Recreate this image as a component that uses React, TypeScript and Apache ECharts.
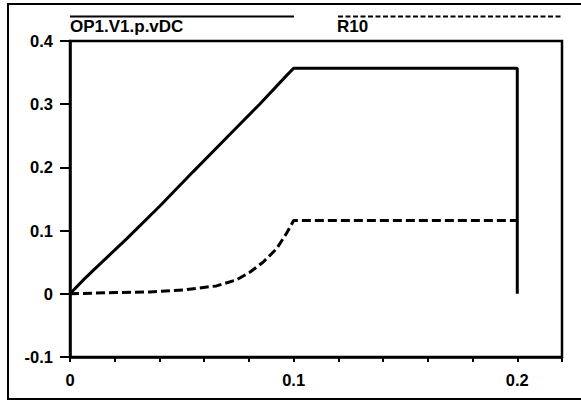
import React, { useEffect, useRef } from "react";
import * as echarts from "echarts";

const seriesNames = ["OP1.V1.p.vDC", "R10"];
const vdcX = [0, 0.006, 0.0104, 0.0253, 0.0402, 0.055, 0.07, 0.0848, 0.097, 0.1, 0.2, 0.2];
const vdcY = [0, 0.022, 0.037, 0.087, 0.139, 0.193, 0.247, 0.3, 0.346, 0.357, 0.357, 0];
const r10X = [0, 0.02, 0.0357, 0.0506, 0.0655, 0.0744, 0.0804, 0.0863, 0.0923, 0.0967, 0.1, 0.2];
const r10Y = [0, 0.002, 0.003, 0.006, 0.0125, 0.022, 0.034, 0.05, 0.071, 0.095, 0.116, 0.116];
const xLabelValues = [0, 0.1, 0.2];

const FONT = "'Liberation Sans', Arial, Helvetica, sans-serif";

export default function App() {
  const ref = useRef<HTMLDivElement>(null);
  useEffect(() => {
    document.body.style.margin = "0";
    const chart = echarts.init(ref.current!, undefined, { renderer: "svg" });
    const fmtX = (v: number) => {
      const hit = xLabelValues.find((t) => Math.abs(t - v) < 1e-9);
      return hit === undefined ? "" : String(hit);
    };
    chart.setOption({
      animation: false,
      backgroundColor: "#fff",
      grid: {
        left: 70,
        top: 41,
        right: 19,
        bottom: 46,
        show: true,
        borderColor: "#000",
        borderWidth: 2.5,
        backgroundColor: "transparent",
      },
      xAxis: {
        type: "value",
        min: 0,
        max: 0.22,
        interval: 0.02,
        splitLine: { show: false },
        axisLine: { show: true, onZero: false, lineStyle: { color: "#000", width: 2.5 } },
        axisTick: { show: true, length: 5, lineStyle: { color: "#000", width: 2 } },
        axisLabel: {
          formatter: fmtX,
          color: "#000",
          fontFamily: FONT,
          fontWeight: "bold",
          fontSize: 16.5,
          margin: 14,
          showMaxLabel: true,
          showMinLabel: true,
        },
      },
      yAxis: {
        type: "value",
        min: -0.1,
        max: 0.4,
        interval: 0.1,
        splitLine: { show: false },
        axisLine: { show: true, onZero: false, lineStyle: { color: "#000", width: 2.5 } },
        axisTick: { show: true, length: 10, lineStyle: { color: "#000", width: 2 } },
        axisLabel: {
          formatter: (v: number) => String(Math.round(v * 10) / 10),
          color: "#000",
          fontFamily: FONT,
          fontWeight: "bold",
          fontSize: 16.5,
          margin: 17,
        },
      },
      series: [
        {
          name: seriesNames[0],
          type: "line",
          showSymbol: false,
          data: vdcX.map((x, i) => [x, vdcY[i]]),
          lineStyle: { color: "#000", width: 3, type: "solid" },
        },
        {
          name: seriesNames[1],
          type: "line",
          showSymbol: false,
          data: r10X.map((x, i) => [x, r10Y[i]]),
          lineStyle: { color: "#000", width: 3, type: [9, 4] },
        },
      ],
      graphic: [
        {
          type: "rect",
          shape: { x: 8, y: 4, width: 600, height: 395 },
          style: { fill: "none", stroke: "#000", lineWidth: 2 },
          silent: true,
        },
        {
          type: "line",
          shape: { x1: 70, y1: 16.5, x2: 294, y2: 16.5 },
          style: { stroke: "#000", lineWidth: 2 },
        },
        {
          type: "text",
          x: 70,
          y: 35,
          style: {
            text: seriesNames[0],
            fill: "#000",
            font: `bold 17px ${FONT}`,
            textVerticalAlign: "bottom",
          },
        },
        {
          type: "line",
          shape: { x1: 338, y1: 16.5, x2: 562, y2: 16.5 },
          style: { stroke: "#000", lineWidth: 2, lineDash: [5, 2.5] },
        },
        {
          type: "text",
          x: 337,
          y: 35,
          style: {
            text: seriesNames[1],
            fill: "#000",
            font: `bold 17px ${FONT}`,
            textVerticalAlign: "bottom",
          },
        },
      ],
    });
    return () => chart.dispose();
  }, []);
  return <div ref={ref} style={{ width: 581, height: 403 }} />;
}
